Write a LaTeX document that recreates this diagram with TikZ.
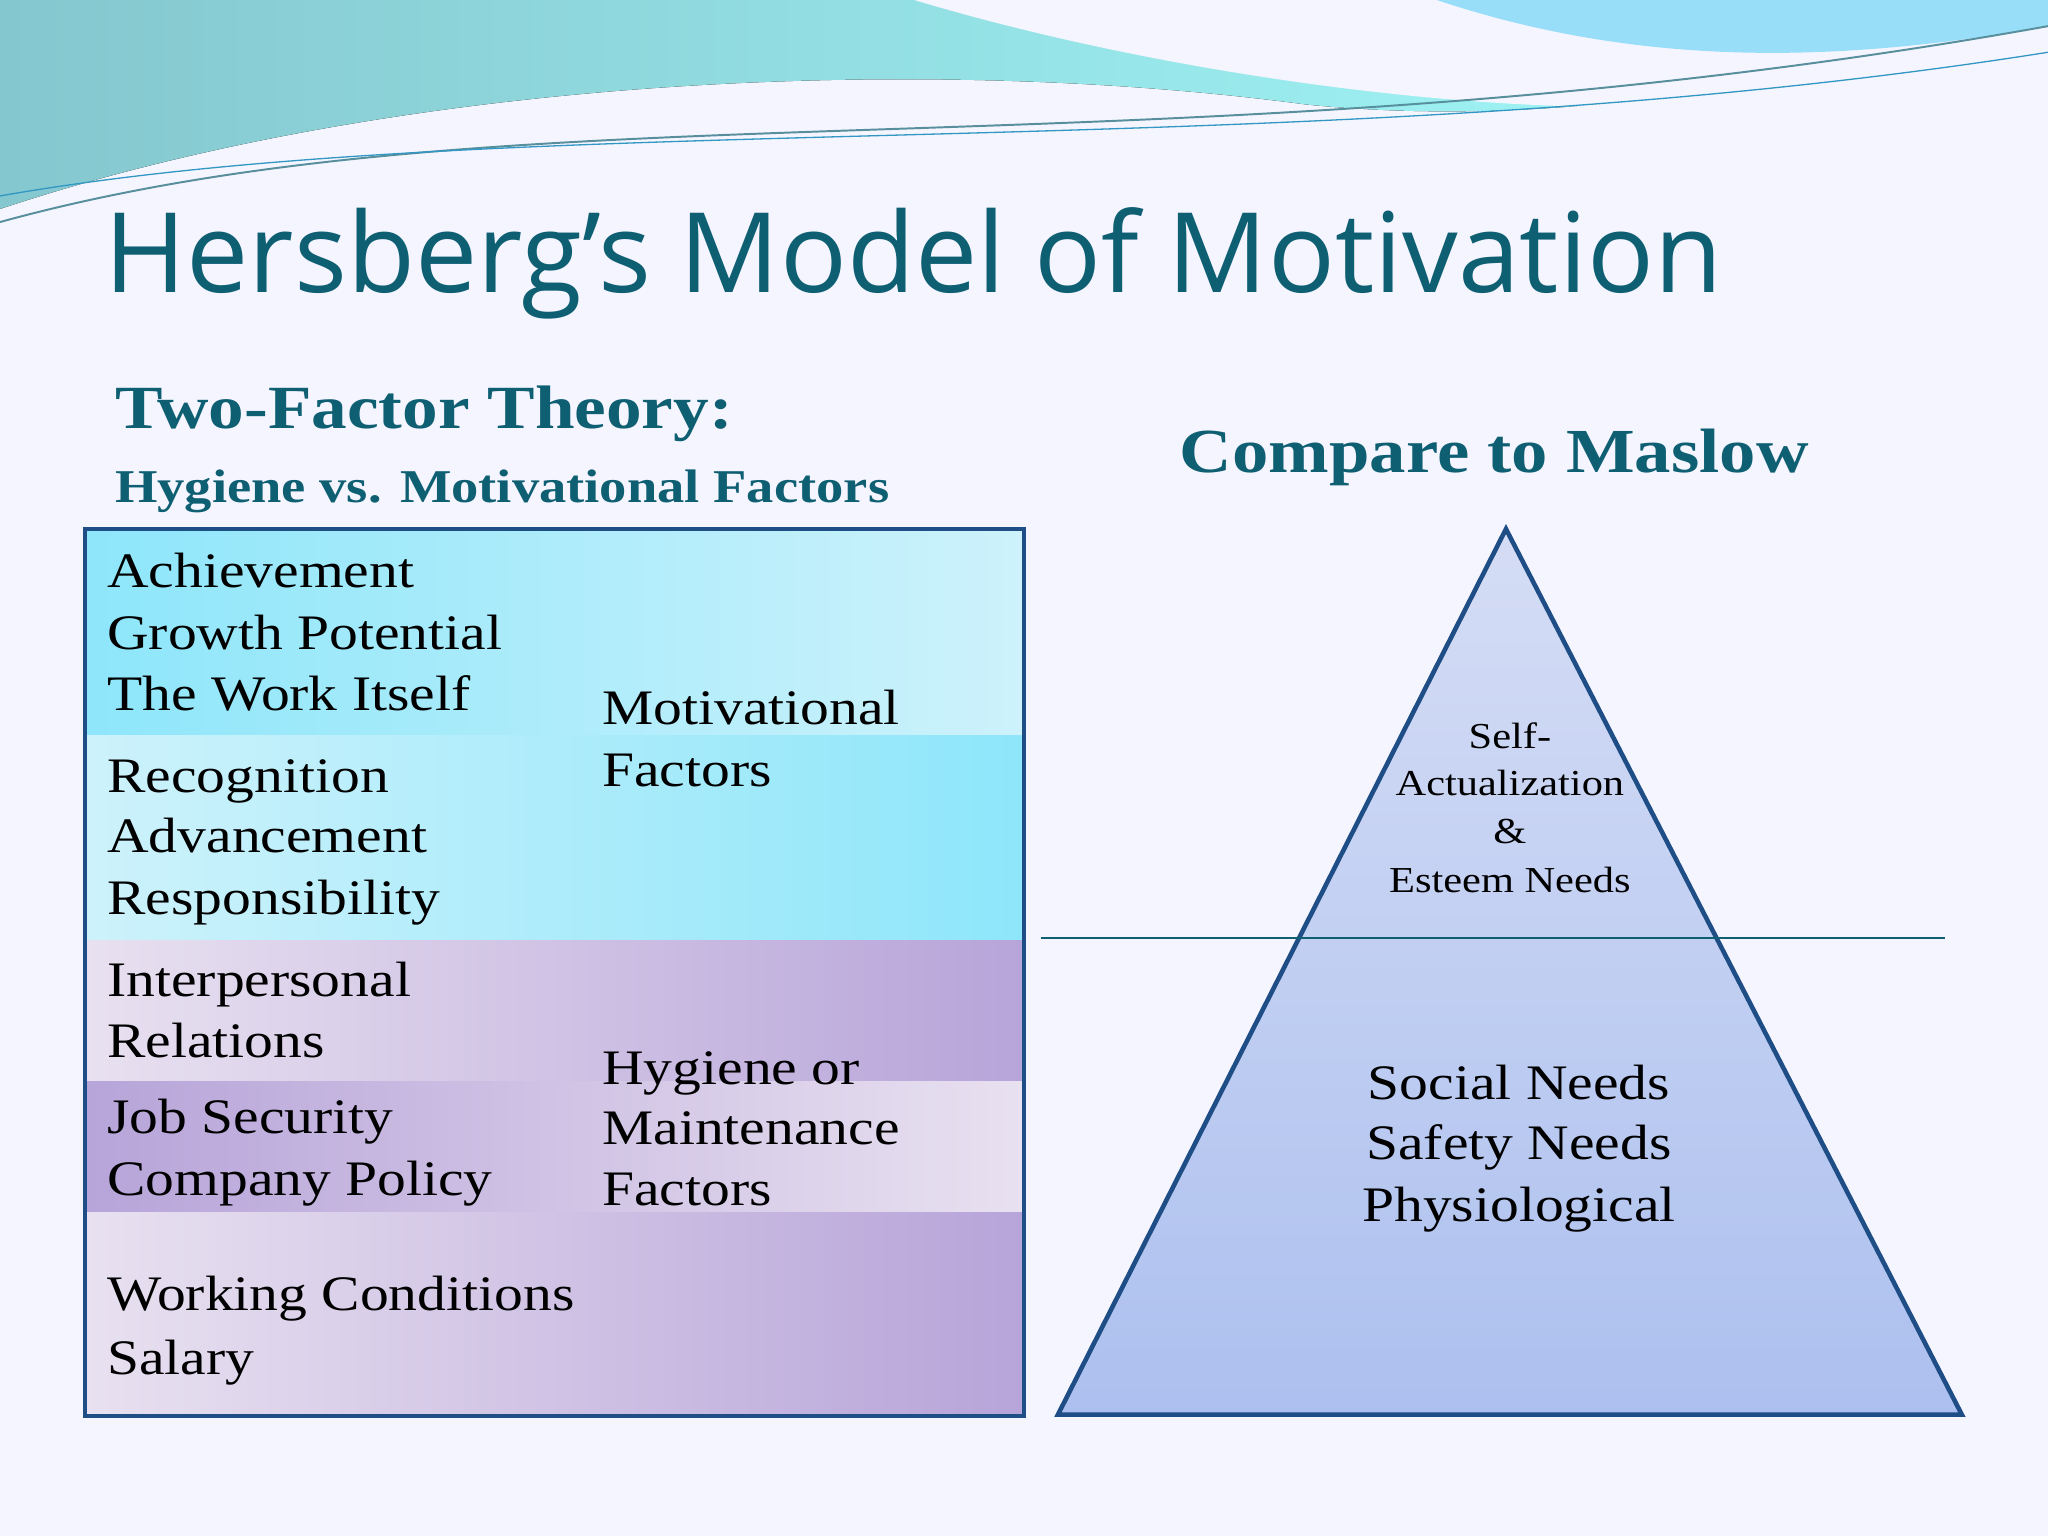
\documentclass[tikz,border=0pt]{standalone}
\usepackage{fontspec}
\setmainfont{Liberation Serif}[FakeStretch=1.16]
\newfontfamily\titlefont{Open Sans}
\definecolor{teal}{HTML}{0F5F73}
\definecolor{cyanA}{HTML}{8EE6FA}
\definecolor{cyanB}{HTML}{CDF2FB}
\definecolor{purA}{HTML}{B7A4D9}
\definecolor{purB}{HTML}{E8E1F0}
\definecolor{triA}{HTML}{CBD5F3}
\definecolor{triB}{HTML}{8EABEB}
\definecolor{edge}{HTML}{1F4E86}
\begin{document}
\begin{tikzpicture}[x=1pt,y=-1pt,
  body/.style={anchor=base west,inner sep=0pt,font=\fontsize{38}{40}\selectfont},
  tri/.style={anchor=base,inner sep=0pt,font=\fontsize{28}{30}\selectfont},
  trib/.style={anchor=base,inner sep=0pt,font=\fontsize{38}{40}\selectfont}]
\useasboundingbox (0,0) rectangle (1568,1176);
\fill[white!96!blue] (0,0) rectangle (1568,1176);
% waves
\fill[left color=cyan!30!teal!50, right color=cyan!35] (0,0) -- (0,160) .. controls (300,60) and (700,40) .. (1000,80) .. controls (1200,100) and (1400,60) .. (1568,10) -- (1568,0) -- cycle;
\fill[white!96!blue] (700,0) .. controls (900,60) and (1150,90) .. (1300,80) .. controls (1400,70) and (1500,30) .. (1568,0) -- cycle;
\fill[cyan!40] (1100,0) .. controls (1250,50) and (1400,50) .. (1568,20) -- (1568,0) -- cycle;
\draw[teal!70,line width=1.5pt] (0,170) .. controls (400,60) and (900,140) .. (1568,20);
\draw[cyan!60!teal,line width=1pt] (0,150) .. controls (400,80) and (1000,130) .. (1568,40);
% title
\node[anchor=base west,inner sep=0pt,text=teal,font=\titlefont\fontsize{85}{90}\selectfont] (title) at (80,224) {Hersberg’s Model of Motivation};
\node[anchor=base west,inner sep=0pt,text=teal,font=\bfseries\fontsize{47}{52}\selectfont] (tf) at (88,328) {Two-Factor Theory:};
\node[anchor=base west,inner sep=0pt,text=teal,font=\bfseries\fontsize{36}{38}\selectfont] (hv) at (88,385) {Hygiene vs. Motivational Factors};
\node[anchor=base,inner sep=0pt,text=teal,font=\bfseries\fontsize{48}{52}\selectfont] (cm) at (1144,362) {Compare to Maslow};
% box bands
\shade[left color=cyanA, right color=cyanB] (65,405) rectangle (784,563);
\shade[left color=cyanB, right color=cyanA] (65,563) rectangle (784,720);
\shade[left color=purB, right color=purA] (65,720) rectangle (784,828);
\shade[left color=purA, right color=purB] (65,828) rectangle (784,928);
\shade[left color=purB, right color=purA] (65,928) rectangle (784,1084);
\draw[edge,line width=3pt] (65,405) rectangle (784,1084);
\node[body] (l1) at (82,450) {Achievement};
\node[body] (l2) at (82,497) {Growth Potential};
\node[body] (l3) at (82,544) {The Work Itself};
\node[body] (l4) at (82,607) {Recognition};
\node[body] (l5) at (82,653) {Advancement};
\node[body] (l6) at (82,700) {Responsibility};
\node[body] (l7) at (82,763) {Interpersonal};
\node[body] (l8) at (82,810) {Relations};
\node[body] (l9) at (82,868) {Job Security};
\node[body] (l10) at (82,915) {Company Policy};
\node[body] (l11) at (82,1003) {Working Conditions};
\node[body] (l12) at (82,1052) {Salary};
\node[body] (m1) at (461,555) {Motivational};
\node[body] (m2) at (461,602) {Factors};
\node[body] (h1) at (461,830) {Hygiene or};
\node[body] (h2) at (461,876) {Maintenance};
\node[body] (h3) at (461,923) {Factors};
% triangle
\coordinate (apex) at (1153,405);
\coordinate (bl) at (810,1083);
\coordinate (br) at (1502,1083);
\shade[left color=triA, right color=triB, shading angle=0] (apex) -- (bl) -- (br) -- cycle;
\shade[top color=triA!60!white, bottom color=triA, opacity=0.5] (apex) -- (bl) -- (br) -- cycle;
\draw[edge,line width=3.5pt,line join=miter] (apex) -- (bl) -- (br) -- cycle;
\coordinate (ll) at (797,718);
\coordinate (lr) at (1489,718);
\draw[teal,line width=1.5pt] (ll) -- (lr);
\node[tri] (t1) at (1156,573) {Self-};
\node[tri] (t2) at (1156,609) {Actualization};
\node[tri] (t3) at (1156,646) {\&};
\node[tri] (t4) at (1156,683) {Esteem Needs};
\node[trib] (s1) at (1163,842) {Social Needs};
\node[trib] (s2) at (1163,888) {Safety Needs};
\node[trib] (s3) at (1163,935) {Physiological};
\end{tikzpicture}
\end{document}
